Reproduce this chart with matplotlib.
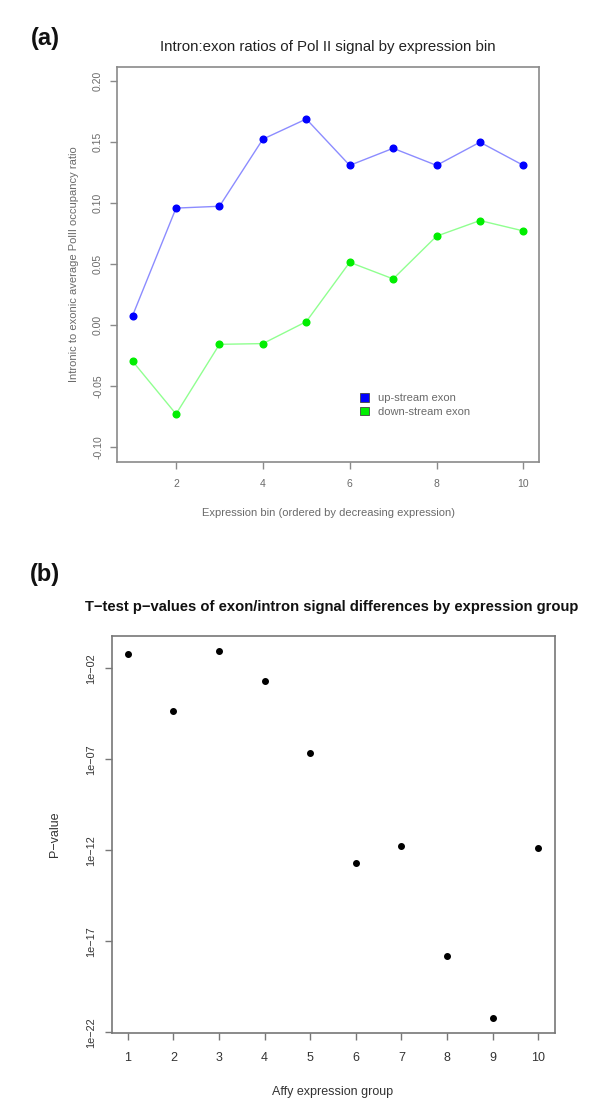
import numpy as np
import matplotlib
matplotlib.use("Agg")
import matplotlib.pyplot as plt
from matplotlib.patches import Patch
from matplotlib.ticker import FixedLocator, NullLocator

plt.rcParams['font.family'] = ['Liberation Sans', 'DejaVu Sans']

# ---------------- data ----------------
bins = [1, 2, 3, 4, 5, 6, 7, 8, 9, 10]
upstream = [0.008, 0.096, 0.0975, 0.1525, 0.169, 0.131, 0.145, 0.131, 0.150, 0.131]
downstream = [-0.0295, -0.0727, -0.0156, -0.0150, 0.003, 0.0516, 0.038, 0.073, 0.0858, 0.0773]
a_xticks = [2, 4, 6, 8, 10]
a_yticks = [-0.10, -0.05, 0.00, 0.05, 0.10, 0.15, 0.20]
a_ytick_labels = ["-0.10", "-0.05", "0.00", "0.05", "0.10", "0.15", "0.20"]
legend_labels = ["up-stream exon", "down-stream exon"]

groups = [1, 2, 3, 4, 5, 6, 7, 8, 9, 10]
log10_pvalues = [-1.195, -4.324, -1.030, -2.695, -6.666, -12.705, -11.771, -17.828, -21.213, -11.845]
b_yticks = [1e-22, 1e-17, 1e-12, 1e-07, 1e-02]
b_ytick_labels = ["1e\u221222", "1e\u221217", "1e\u221212", "1e\u221207", "1e\u221202"]

# ---------------- figure ----------------
W, H = 600, 1101
fig = plt.figure(figsize=(W / 100, H / 100), dpi=100)
fig.patch.set_facecolor('white')

def fx(px):
    return px / W

def fy(py):
    return 1 - py / H

def axrect(l, t, r, b):
    return [fx(l), fy(b), (r - l) / W, (b - t) / H]

# ---------- panel (a) ----------
gray = '#6a6a6a'
axa = fig.add_axes(axrect(117, 66.5, 539, 462))
axa.plot(bins, upstream, color='#8c8cff', lw=1.0, zorder=2)
axa.plot(bins, upstream, 'o', color='#0000ff', ms=4.8, mec='#0000ff', zorder=3)
axa.plot(bins, downstream, color='#90ff90', lw=1.0, zorder=2)
axa.plot(bins, downstream, 'o', color='#00ee00', ms=4.8, mec='#00ee00', zorder=3)
axa.set_xlim(0.64, 10.36)
axa.set_ylim(-0.112, 0.212)
axa.xaxis.set_major_locator(FixedLocator(a_xticks))
axa.set_xticklabels([str(v) for v in a_xticks])
axa.yaxis.set_major_locator(FixedLocator(a_yticks))
axa.set_yticklabels(a_ytick_labels, rotation=90, va='center')
for s in axa.spines.values():
    s.set_color('#8a8a8a')
    s.set_linewidth(1.2)
axa.tick_params(axis='both', direction='out', length=5, width=1, color='#8a8a8a',
                labelcolor=gray, labelsize=7.5)
axa.tick_params(axis='x', pad=7)
axa.tick_params(axis='y', pad=5)
axa.set_xlabel("Expression bin (ordered by decreasing expression)", color=gray,
               fontsize=8, labelpad=14)
axa.set_ylabel("Intronic to exonic average PolII occupancy ratio", color=gray,
               fontsize=8, labelpad=10)
handles = [Patch(facecolor='#0000ff', edgecolor='#444444', lw=0.6),
           Patch(facecolor='#00ee00', edgecolor='#444444', lw=0.6)]
leg = axa.legend(handles, legend_labels, loc='upper left',
                 bbox_to_anchor=(0.565, 0.185), frameon=False, fontsize=8,
                 handlelength=0.8, handleheight=0.8, handletextpad=0.8,
                 labelspacing=0.3, borderaxespad=0)
for t in leg.get_texts():
    t.set_color(gray)

fig.text(fx(328), fy(47), "Intron:exon ratios of Pol II signal by expression bin",
         ha='center', va='center', fontsize=10.8, color='#222222')
fig.text(fx(45), fy(38), "(a)", ha='center', va='center', fontsize=17,
         fontweight='bold', color='#111111')

# ---------- panel (b) ----------
axb = fig.add_axes(axrect(111.5, 636, 554.5, 1032.7))
pvalues = [10.0 ** v for v in log10_pvalues]
axb.plot(groups, pvalues, 'o', color='black', ms=4.0, zorder=3)
axb.set_yscale('log')
lo, hi = min(log10_pvalues), max(log10_pvalues)
ext = 0.04 * (hi - lo)
axb.set_ylim(10 ** (lo - ext), 10 ** (hi + ext))
axb.set_xlim(0.64, 10.36)
axb.xaxis.set_major_locator(FixedLocator(groups))
axb.set_xticklabels([str(g) for g in groups])
axb.yaxis.set_major_locator(FixedLocator(b_yticks))
axb.yaxis.set_minor_locator(NullLocator())
axb.set_yticklabels(b_ytick_labels, rotation=90, va='center')
for s in axb.spines.values():
    s.set_color('#777777')
    s.set_linewidth(1.2)
axb.tick_params(axis='both', direction='out', length=5, width=1, color='#777777',
                labelcolor='#333333')
axb.tick_params(axis='x', labelsize=9, pad=9)
axb.tick_params(axis='y', labelsize=7.8, pad=6)
axb.set_xlabel("Affy expression group", color='#333333', fontsize=9, labelpad=16)
axb.set_ylabel("P\u2212value", color='#333333', fontsize=9, labelpad=18)

fig.text(fx(332), fy(607),
         "T\u2212test p\u2212values of exon/intron signal differences by expression group",
         ha='center', va='center', fontsize=10.6, fontweight='bold', color='#111111')
fig.text(fx(45), fy(574), "(b)", ha='center', va='center', fontsize=17,
         fontweight='bold', color='#111111')

fig.savefig("out.png", dpi=100, facecolor='white')
